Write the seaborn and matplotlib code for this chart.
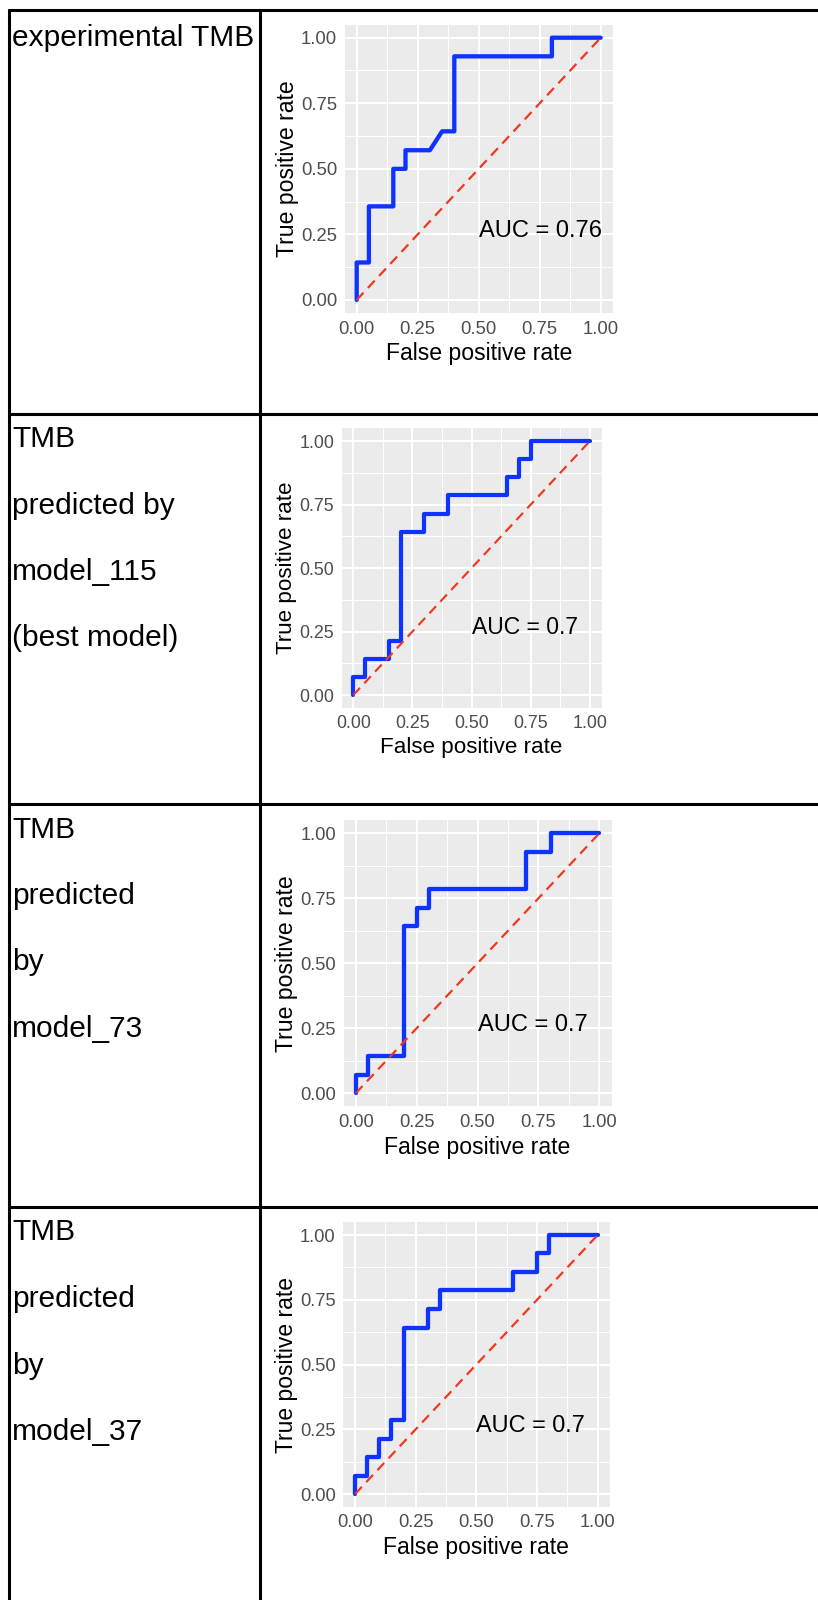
import matplotlib
matplotlib.use("Agg")
import matplotlib.pyplot as plt
import seaborn as sns
import pandas as pd
from matplotlib.ticker import MultipleLocator, FormatStrFormatter

# left column text, one list per table row
row_labels = [
    ["experimental TMB"],
    ["TMB", "predicted by", "model_115", "(best model)"],
    ["TMB", "predicted", "by", "model_73"],
    ["TMB", "predicted", "by", "model_37"],
]
auc_labels = ["AUC = 0.76", "AUC = 0.7", "AUC = 0.7", "AUC = 0.7"]

# ROC vertices (false positive rate, true positive rate)
fpr_exp = [0, 0, 0.05, 0.05, 0.15, 0.15, 0.20, 0.20, 0.30, 0.35, 0.40, 0.40, 0.80, 0.80, 1.00]
tpr_exp = [0, 0.143, 0.143, 0.357, 0.357, 0.500, 0.500, 0.571, 0.571, 0.643, 0.643, 0.929, 0.929, 1.0, 1.0]

fpr_115 = [0, 0, 0.05, 0.05, 0.15, 0.15, 0.20, 0.20, 0.30, 0.30, 0.40, 0.40, 0.65, 0.65, 0.70, 0.70, 0.75, 0.75, 1.00]
tpr_115 = [0, 0.071, 0.071, 0.143, 0.143, 0.214, 0.214, 0.643, 0.643, 0.714, 0.714, 0.786, 0.786, 0.857, 0.857, 0.929, 0.929, 1.0, 1.0]

fpr_73 = [0, 0, 0.05, 0.05, 0.20, 0.20, 0.25, 0.25, 0.30, 0.30, 0.70, 0.70, 0.80, 0.80, 1.00]
tpr_73 = [0, 0.071, 0.071, 0.143, 0.143, 0.643, 0.643, 0.714, 0.714, 0.786, 0.786, 0.929, 0.929, 1.0, 1.0]

fpr_37 = [0, 0, 0.05, 0.05, 0.10, 0.10, 0.15, 0.15, 0.20, 0.20, 0.30, 0.30, 0.35, 0.35, 0.65, 0.65, 0.75, 0.75, 0.80, 0.80, 1.00]
tpr_37 = [0, 0.071, 0.071, 0.143, 0.143, 0.214, 0.214, 0.286, 0.286, 0.643, 0.643, 0.714, 0.714, 0.786, 0.786, 0.857, 0.857, 0.929, 0.929, 1.0, 1.0]

chance = [0, 1]

curves = [(fpr_exp, tpr_exp), (fpr_115, tpr_115), (fpr_73, tpr_73), (fpr_37, tpr_37)]

sns.set_theme(style="darkgrid")
plt.rcParams["font.family"] = ["Liberation Sans", "DejaVu Sans"]

W, H = 818, 1600
fig = plt.figure(figsize=(W / 100, H / 100), dpi=100)
fig.patch.set_facecolor("white")

# table grid, drawn in pixel coordinates
bg = fig.add_axes([0, 0, 1, 1])
bg.set_xlim(0, W)
bg.set_ylim(H, 0)
bg.axis("off")
row_tops = [9.5, 413.5, 804, 1207]
for y in row_tops:
    bg.hlines(y, 8.0, W, color="black", lw=2.2)
for x in [9.2, 260.3]:
    bg.vlines(x, 8.5, H, color="black", lw=2.2)

first_offset = [36, 33.5, 33.5, 33.5]
for top, off, lines in zip(row_tops, first_offset, row_labels):
    for k, txt in enumerate(lines):
        bg.text(12.0, top + off + k * 66.5, txt, fontsize=21.5,
                color="black", ha="left", va="baseline")

# plot panels (left, top, right, bottom) in pixels
panels = [(344.5, 24.6, 612.9, 313.1),
          (341.5, 428.3, 601.8, 707.7),
          (343.5, 820.3, 611.5, 1106.3),
          (342.9, 1222.1, 609.8, 1507.0)]

blue = "#0f33ff"
red = "#f2361e"

for (fpr, tpr), auc, (l, t, r, b) in zip(curves, auc_labels, panels):
    ax = fig.add_axes([l / W, 1 - b / H, (r - l) / W, (b - t) / H])
    s = (r - l) / 268.4
    ax.set_facecolor("#EBEBEB")
    sns.lineplot(x=fpr, y=tpr, ax=ax, sort=False, estimator=None,
                 color=blue, lw=3.1 * s, zorder=3)
    sns.lineplot(x=chance, y=chance, ax=ax, color=red, lw=1.6 * s,
                 dashes=False, linestyle=(0, (4.5, 2.9)), zorder=4)
    ax.set_xlim(-0.05, 1.05)
    ax.set_ylim(-0.05, 1.05)
    for axis in (ax.xaxis, ax.yaxis):
        axis.set_major_locator(MultipleLocator(0.25))
        axis.set_minor_locator(MultipleLocator(0.125))
        axis.set_major_formatter(FormatStrFormatter("%.2f"))
    ax.grid(which="major", color="white", lw=1.5 * s)
    ax.grid(which="minor", color="white", lw=0.75 * s)
    ax.set_axisbelow(True)
    for sp in ax.spines.values():
        sp.set_visible(False)
    ax.tick_params(which="major", length=3.3 * s, width=0.8, color="#333333",
                   labelsize=13.3 * s, labelcolor="#4D4D4D", pad=2.0 * s)
    ax.tick_params(axis="x", pad=2.1 * s)
    ax.tick_params(which="minor", length=0)
    ax.set_xlabel("False positive rate", fontsize=16.6 * s, color="black", labelpad=3.5)
    ax.set_ylabel("True positive rate", fontsize=16.6 * s, color="black", labelpad=1.5)
    ax.text(0.5, 0.24, auc, fontsize=17 * s, color="black",
            ha="left", va="baseline", zorder=5)
    leg = ax.get_legend()
    if leg is not None:
        leg.remove()

fig.savefig("out.png", dpi=100, facecolor="white")
